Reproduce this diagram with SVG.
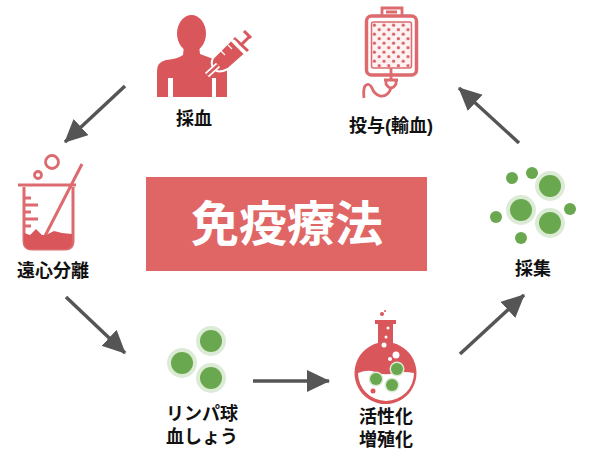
<svg xmlns="http://www.w3.org/2000/svg" width="592" height="464" viewBox="0 0 592 464">
<style>
text{font-family:"Liberation Sans","Noto Sans CJK JP",sans-serif;font-weight:700;text-anchor:middle;fill:#111;font-size:18px}
.red{fill:#d9565b}
.ln{fill:none;stroke:#dc6a6e;stroke-width:2.800}
.halo{fill:#dcebd5}
.cell{fill:#6aa84f}
.arr{stroke:#555;stroke-width:3.500;fill:none;marker-end:url(#ah)}
</style>
<defs>
<marker id="ah" markerUnits="userSpaceOnUse" markerWidth="26" markerHeight="24" refX="22" refY="11" orient="auto"><path d="M0 0L23 11L0 22Z" fill="#555"/></marker>
<pattern id="dots" width="9.6" height="9" patternUnits="userSpaceOnUse" x="372" y="23"><rect width="9.6" height="9" fill="#fdf1f1"/><circle cx="2.400" cy="2.200" r="1.600" fill="#d9656a"/><circle cx="7.200" cy="6.700" r="1.600" fill="#d9656a"/></pattern>
</defs>
<rect width="592" height="464" fill="#fff"/>
<g id="center"><rect x="146" y="177" width="281" height="94" fill="#e06666"/><text x="287" y="241" style="font-size:48px;fill:#fff">免疫療法</text></g>
<g id="connectors">
<path class="arr" d="M125 86L65 142"/>
<path class="arr" d="M66 297L125 353"/>
<path class="arr" d="M253 381L329 381"/>
<path class="arr" d="M460 354L524 295"/>
<path class="arr" d="M519 143L459 88"/>
</g>
<g id="saiketsu">
<ellipse class="red" cx="191.500" cy="33.500" rx="14.500" ry="18.500"/>
<path class="red" d="M184 46L199 46L200 54Q208 57 216 60L227 68L227 97L216 97L216 78L212 78L212 97L173 97L173 78L168 78L168 97L157 97L157 71Q157 62 166 60Q178 59 183 55Z"/>
<g stroke="#fff" stroke-width="2" stroke-linejoin="round"><path class="red" d="M213 58L231 40L245 54L228 69Q218 74 214 69Q210 64 213 58Z"/><path fill="none" stroke-width="6" d="M207 75L218 65"/></g>
<path fill="none" stroke="#d9565b" stroke-width="2.500" d="M207 75L218 65"/>
<path fill="none" stroke="#d9565b" stroke-width="3" d="M234 38L248 51M242 44L249 37M244 31L251 38"/>
<path d="M221 51l4 4M228 45l4 4M234 40l4 4" stroke="#fff" stroke-width="1.200"/>
<text x="194" y="125">採血</text></g>
<g id="toyo">
<rect class="ln" x="366.500" y="16" width="50" height="59" rx="5" style="stroke-width:3.500"/>
<rect x="371.500" y="22" width="40" height="46" rx="2" fill="url(#dots)" stroke="#dc6a6e" stroke-width="1.500"/>
<path class="ln" d="M382 16L382 8L402 8L402 16M386 12L397 12M391 68L391 80M384 80L398 80M386 80L386 84Q391 92 396 84L396 80M391 88Q388 97 380 96Q374 94 372 88Q369 82 365 86Q363 90 364 98"/>
<text x="391" y="132">投与(輸血)</text></g>
<g id="enshin">
<circle class="ln" cx="52" cy="162" r="6.500"/><circle class="ln" cx="38" cy="175" r="3.500"/>
<path class="ln" d="M18 185L76 185M24 187L24 241Q24 249 32 249L65 249Q73 249 73 241L73 187M82 164L45 236M24 198L31 198M24 205L38 205M24 212L31 212M24 219L38 219M24 226L31 226" style="stroke-width:3"/>
<path class="red" d="M24 233L30 235L36 229L42 235L46 235L54 231L62 233L72 234L72 241Q72 249 65 249L31 249Q24 249 24 241Z"/>
<text x="53" y="277">遠心分離</text></g>
<g id="lymph">
<circle class="halo" cx="211" cy="341" r="15"/><circle class="cell" cx="211" cy="341" r="11"/>
<circle class="halo" cx="182" cy="363" r="15"/><circle class="cell" cx="182" cy="363" r="11"/>
<circle class="halo" cx="211" cy="378" r="15"/><circle class="cell" cx="211" cy="378" r="11"/>
<text><tspan x="202" y="420">リンパ球</tspan><tspan x="202" y="443">血しょう</tspan></text></g>
<g id="flask">
<path class="red" d="M375 320L396 320L396 324L393 324L393 343A31 31 0 1 1 378 343L378 324L375 324Z"/>
<path fill="#fff" d="M358 373Q368 369 375 372Q384 376 394 373Q403 371 414 373A28 28 0 0 1 358 373Z"/>
<circle class="red" cx="382" cy="314" r="2"/><circle fill="#d9565b" cx="385" cy="311" r="1"/>
<g fill="#fff"><circle cx="388" cy="328" r="1.500"/><circle cx="386" cy="337" r="1.500"/><circle cx="384" cy="345" r="2.500"/><circle cx="396" cy="355" r="3.500"/><circle cx="390" cy="359" r="2"/></g>
<circle class="red" cx="373" cy="391" r="2.500"/>
<circle class="halo" cx="376" cy="379" r="7.500"/><circle class="cell" cx="376" cy="379" r="6"/>
<circle class="halo" cx="397" cy="369" r="7.500"/><circle class="cell" cx="397" cy="369" r="6"/>
<circle class="halo" cx="392" cy="385" r="7.500"/><circle class="cell" cx="392" cy="385" r="6"/>
<text><tspan x="386" y="423">活性化</tspan><tspan x="386" y="446">増殖化</tspan></text></g>
<g id="saishu">
<circle class="halo" cx="550" cy="186" r="15"/><circle class="cell" cx="550" cy="186" r="11"/>
<circle class="halo" cx="521" cy="210" r="15"/><circle class="cell" cx="521" cy="210" r="11"/>
<circle class="halo" cx="550" cy="223" r="15"/><circle class="cell" cx="550" cy="223" r="11"/>
<circle class="cell" cx="512" cy="178" r="6"/><circle class="cell" cx="532" cy="173" r="6"/><circle class="cell" cx="570" cy="209" r="6"/><circle class="cell" cx="496" cy="217" r="6"/><circle class="cell" cx="521" cy="238" r="6"/>
<text x="533" y="275">採集</text></g>
</svg>
